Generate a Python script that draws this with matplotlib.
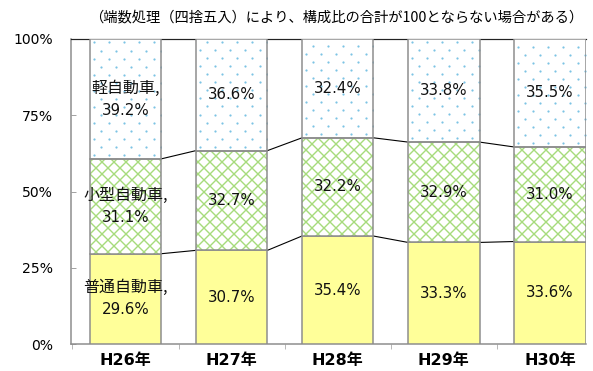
import numpy as np
import matplotlib
matplotlib.use('Agg')
import matplotlib.pyplot as plt
from matplotlib.patches import Rectangle

plt.rcParams['font.family'] = ['DejaVu Sans', 'Noto Sans CJK JP']
plt.rcParams['hatch.linewidth'] = 1.4

# Data: share of vehicle types by year (%)
years = ['H26年', 'H27年', 'H28年', 'H29年', 'H30年']
futsu = [29.6, 30.7, 35.4, 33.3, 33.6]    # 普通自動車
kogata = [31.1, 32.7, 32.2, 32.9, 31.0]   # 小型自動車
kei = [39.2, 36.6, 32.4, 33.8, 35.5]      # 軽自動車
names = ['普通自動車,', '小型自動車,', '軽自動車,']
yticks = [0, 25, 50, 75, 100]

edge = '#8c8c8c'
yellow = '#ffff99'
green = '#a6db7c'
blue = '#7cc4e4'

dpi = 72
fig = plt.figure(figsize=(593 / dpi, 371 / dpi), dpi=dpi)
ax = fig.add_axes([71 / 593, 27 / 371, (586 - 71) / 593, (344 - 39) / 371])

x = np.arange(len(years))
w = 0.674
futsu = np.array(futsu)
kogata = np.array(kogata)
kei = np.array(kei)
bottom2 = futsu
bottom3 = futsu + kogata

ax.set_xlim(-0.514, 4.34)
ax.set_ylim(0, 100)

# yellow segment
ax.bar(x, futsu, w, color=yellow, edgecolor=edge, linewidth=1.5, zorder=3)
# green cross-hatched segment: hatch layer then outline
ax.bar(x, kogata, w, bottom=bottom2, color='white', edgecolor=green,
       hatch='xx', linewidth=0, zorder=3)
ax.bar(x, kogata, w, bottom=bottom2, fill=False, edgecolor=edge,
       linewidth=1.5, zorder=4)
# dotted segment: white fill, staggered dot grid clipped to each bar
tops = ax.bar(x, kei, w, bottom=bottom3, color='white', linewidth=0, zorder=3)
dx = 15 / 106.1          # dot spacing along a row (data units)
dy = 8 / 3.04            # row spacing (percent)
for i, rect in enumerate(tops):
    xs, ys = [], []
    for r, yy in enumerate(np.arange(bottom3[i] + dy / 2, 100, dy)):
        off = 0 if r % 2 == 0 else dx / 2
        for xx in np.arange(x[i] - w / 2 + dx / 4 + off, x[i] + w / 2, dx):
            xs.append(xx)
            ys.append(yy)
    sc = ax.scatter(xs, ys, s=5, color=blue, linewidths=0, zorder=3.5)
    clip = Rectangle((x[i] - w / 2, bottom3[i]), w, kei[i], transform=ax.transData)
    sc.set_clip_path(clip)
ax.bar(x, kei, w, bottom=bottom3, fill=False, edgecolor=edge,
       linewidth=1.5, zorder=4)

# series lines between neighbouring bars
for lvl in (bottom2, bottom3):
    for i in range(len(x) - 1):
        ax.plot([x[i] + w / 2, x[i + 1] - w / 2], [lvl[i], lvl[i + 1]],
                color='black', linewidth=1.1, zorder=2)

# value labels
segs = [(futsu, np.zeros(len(x))), (kogata, bottom2), (kei, bottom3)]
for k, (vals, base) in enumerate(segs):
    for i in range(len(x)):
        mid = base[i] + vals[i] / 2
        txt = '%.1f%%' % vals[i]
        if i == 0:
            ax.text(x[i], mid + 3.6, names[k], ha='center', va='center',
                    fontsize=16, zorder=6, color='#111111',
                    family=['Noto Sans CJK JP', 'DejaVu Sans'])
            ax.text(x[i], mid - 3.6, txt, ha='center', va='center',
                    fontsize=15, zorder=6, color='#111111')
        else:
            ax.text(x[i], mid, txt, ha='center', va='center', fontsize=15,
                    zorder=6, color='#111111')

ax.set_yticks(yticks)
ax.set_yticklabels(['%d%%' % v for v in yticks], fontsize=14)
ax.tick_params(axis='y', direction='in', length=5, color=edge, pad=18)

ax.set_xticks(x)
ax.set_xticklabels(years, fontsize=16, fontweight='bold')
ax.set_xticks(np.arange(-0.5, 4.0, 1), minor=True)
ax.tick_params(axis='x', which='major', length=0, pad=9)
ax.tick_params(axis='x', which='minor', direction='out', length=5, color=edge)

ax.spines['right'].set_visible(False)
ax.spines['left'].set_color(edge)
ax.spines['left'].set_linewidth(1.5)
ax.spines['bottom'].set_color(edge)
ax.spines['bottom'].set_linewidth(1.5)
ax.spines['top'].set_color('#222222')
ax.spines['top'].set_linewidth(1.2)

fig.text(336 / 593, 1 - 17 / 371,
         '（端数処理（四捨五入）により、構成比の合計が100とならない場合がある）',
         ha='center', va='center', fontsize=14.3,
         family=['Noto Sans CJK JP', 'DejaVu Sans'])

fig.savefig('out.png', dpi=dpi)
